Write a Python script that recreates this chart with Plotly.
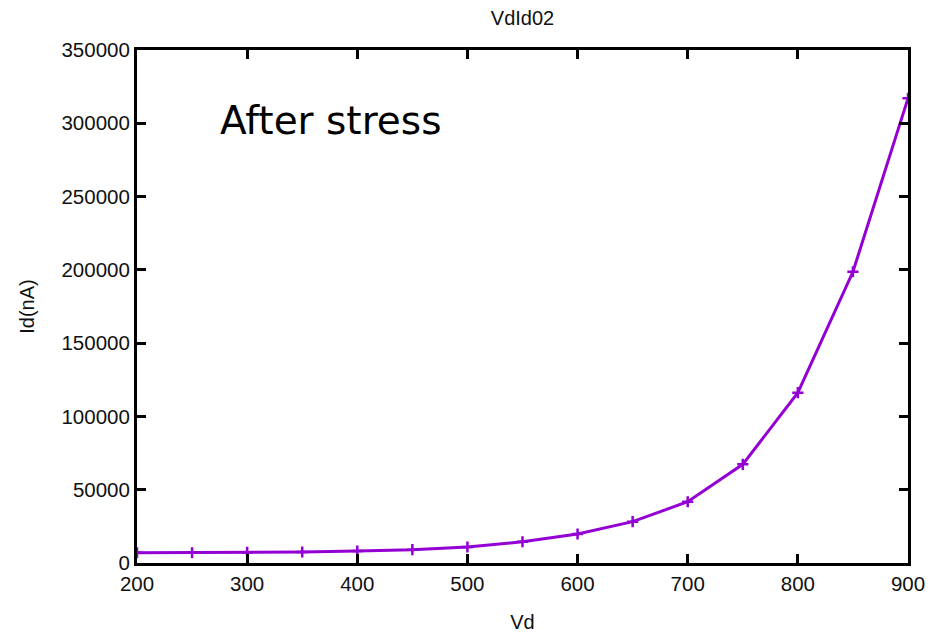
import plotly.graph_objects as go

vd = [200, 250, 300, 350, 400, 450, 500, 550, 600, 650, 700, 750, 800, 850, 900]
id_na = [7000, 7000, 7200, 7500, 8200, 9100, 10900, 14500, 19800, 28200, 41800, 67300, 116200, 198700, 317000]

x_ticks = [200, 300, 400, 500, 600, 700, 800, 900]
y_ticks = [0, 50000, 100000, 150000, 200000, 250000, 300000, 350000]

color = "#9400D3"
fam = "Liberation Sans, Arial"
tick_font = dict(family=fam, size=20.5, color="#111111")

fig = go.Figure()
fig.add_trace(go.Scatter(
    x=vd, y=id_na, mode="lines+markers",
    line=dict(color=color, width=3),
    marker=dict(symbol="cross-thin", size=8, line=dict(color=color, width=2.5)),
    showlegend=False,
))

axis_common = dict(
    showline=True, linecolor="black", linewidth=3, mirror="ticks",
    ticks="inside", ticklen=9, tickwidth=3, tickcolor="black",
    showgrid=False, zeroline=False, tickfont=tick_font,
)

fig.update_layout(
    width=941, height=637,
    margin=dict(l=129, r=41, t=42, b=82),
    paper_bgcolor="white", plot_bgcolor="white",
    title=dict(text="VdId02", x=0.5, xref="paper", xanchor="center",
               y=1 - 10 / 637, yref="container", yanchor="middle",
               font=dict(family=fam, size=20, color="#111111")),
    xaxis=dict(range=[200, 900], tickvals=x_ticks,
               title=dict(text="Vd", font=dict(family=fam, size=20, color="#111111"), standoff=22),
               **axis_common),
    yaxis=dict(range=[0, 350000], tickvals=y_ticks, tickformat="d",
               title=dict(text="Id(nA)", font=dict(family=fam, size=20, color="#111111"), standoff=22),
               **axis_common),
    annotations=[dict(text="After stress", x=0.105, y=0.8635, xref="paper", yref="paper",
                      xanchor="left", yanchor="middle", showarrow=False,
                      font=dict(family="DejaVu Sans", size=39, color="black"))],
)

fig.write_html("out.html")
